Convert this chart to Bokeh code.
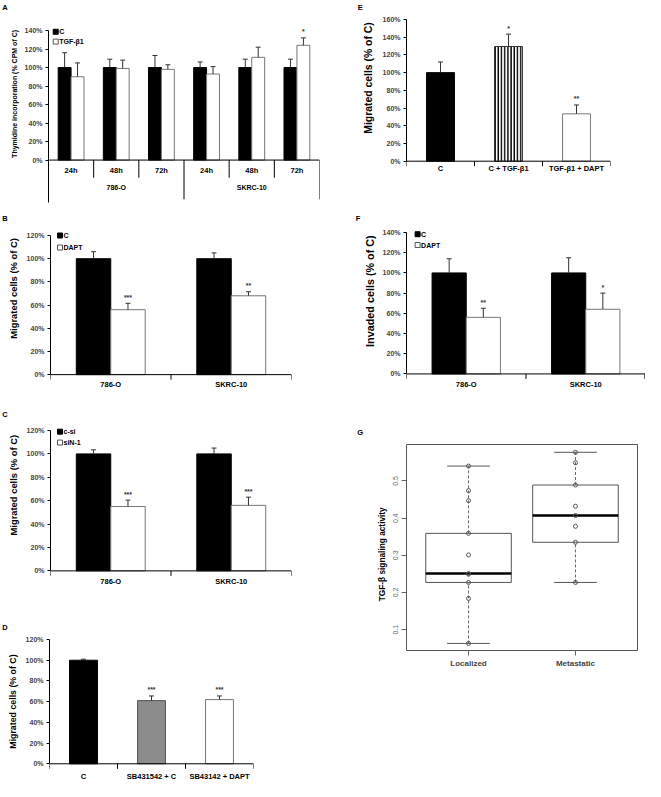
from bokeh.plotting import figure
from bokeh.layouts import column, row
from bokeh.models import Range1d, FixedTicker, PrintfTickFormatter, Title
from bokeh.core.properties import value
from bokeh.embed import file_html
from bokeh.resources import INLINE

# ---------------- data ----------------
a_lines = ["786-O", "SKRC-10"]
a_times = ["24h", "48h", "72h", "24h", "48h", "72h"]
a_c = [100, 100, 100, 100, 100, 100]
a_c_err = [116, 109, 113, 106, 109, 109]
a_tgf = [90, 99, 98, 93, 111, 124]
a_tgf_err = [105, 108, 103, 101, 122, 132]
a_sig = ["", "", "", "", "", "*"]
a_legend = ["C", "TGF-β1"]

b_lines = ["786-O", "SKRC-10"]
b_c = [100, 100]
b_c_err = [106, 105]
b_dapt = [56, 68]
b_dapt_err = [61.5, 71.5]
b_sig = ["***", "**"]
b_legend = ["C", "DAPT"]

c_lines = ["786-O", "SKRC-10"]
c_csi = [100, 100]
c_csi_err = [103.5, 105]
c_sin = [55, 56]
c_sin_err = [60.5, 63]
c_sig = ["***", "***"]
c_legend = ["c-si", "siN-1"]

d_cats = ["C", "SB431542 + C", "SB43142 + DAPT"]
d_vals = [100, 61, 62]
d_err = [101, 65.5, 65.5]
d_sig = ["", "***", "***"]

e_cats = ["C", "C + TGF-β1", "TGF-β1 + DAPT"]
e_vals = [100, 129.5, 53.5]
e_err = [112, 143.5, 63.5]
e_sig = ["", "*", "**"]

f_lines = ["786-O", "SKRC-10"]
f_c = [100, 100]
f_c_err = [114, 115]
f_dapt = [56, 64]
f_dapt_err = [65, 80]
f_sig = ["**", "*"]
f_legend = ["C", "DAPT"]

g_groups = ["Localized", "Metastatic"]
g_localized = [0.540, 0.474, 0.447, 0.359, 0.301, 0.251, 0.249, 0.227, 0.184, 0.063]
g_metastatic = [0.577, 0.549, 0.489, 0.432, 0.407, 0.378, 0.335, 0.227]
g_lo = [0.063, 0.227]
g_q1 = [0.227, 0.335]
g_med = [0.251, 0.407]
g_q3 = [0.359, 0.489]
g_hi = [0.540, 0.577]

# ---------------- styling helpers ----------------
FONT = "Liberation Sans"
FV = value(FONT)
OUTLINE_W = "#777777"
ERR_COL = "#333333"


def strip(w, h, x, y, t):
    """Small band above a panel that carries the panel letter."""
    s = figure(width=w, height=h, x_range=Range1d(0, w), y_range=Range1d(h, 0),
               x_axis_location=None, y_axis_location=None, output_backend="svg",
               toolbar_location=None, min_border=0, frame_align=False)
    s.grid.visible = False
    s.outline_line_color = None
    s.text(x=[x], y=[y], text=[t], text_font=FV, text_font_style="bold",
           text_font_size="7.5px", text_align="center", text_baseline="middle")
    return s


def ylabel_title(p, text, size, offset, standoff):
    t = Title(text=text, align="left", vertical_align="bottom", offset=offset,
              standoff=standoff, text_font=FONT, text_font_style="bold",
              text_font_size=f"{size}px", text_color="black")
    p.add_layout(t, "left")


def excel_fig(w, h, mb, pad, sh, ncat, ymin, ymax, ystep, ylow):
    fh = h - mb[2] - mb[3]
    pxper = fh / (ymax - ymin)
    p = figure(width=w, height=h - sh, x_range=Range1d(0, ncat),
               y_range=Range1d(ymin, ymax + pad / pxper),
               x_axis_location=None, output_backend="svg", toolbar_location=None,
               min_border_left=mb[0], min_border_right=mb[1],
               min_border_top=mb[2] - pad - sh, min_border_bottom=mb[3],
               frame_align=False)
    p.grid.visible = False
    p.outline_line_color = None
    ax = p.yaxis[0]
    ax.ticker = FixedTicker(ticks=list(range(0, ymax + 1, ystep)))
    ax.formatter = PrintfTickFormatter(format="%d%%")
    ax.bounds = (ylow, ymax)
    ax.axis_line_color = "black"
    ax.major_tick_line_color = "black"
    ax.major_tick_out = 3
    ax.major_tick_in = 0
    ax.minor_tick_out = 0
    ax.minor_tick_in = 0
    ax.major_label_standoff = 3
    ax.major_label_text_font = FONT
    ax.major_label_text_font_style = "bold"
    ax.major_label_text_font_size = "7px"
    return p, pxper


def txt(p, xs, ys, texts, size="7.5px", color="black", align="center", baseline="middle"):
    p.text(x=xs, y=ys, text=texts, text_font=FV, text_font_style="bold",
           text_font_size=size, text_color=color, text_align=align, text_baseline=baseline)


def errbars(p, xs, vals, errs, capw):
    p.segment(x0=xs, y0=vals, x1=xs, y1=errs, line_color=ERR_COL, line_width=1)
    p.segment(x0=[x - capw for x in xs], y0=errs, x1=[x + capw for x in xs], y1=errs,
              line_color=ERR_COL, line_width=1)


def stars(p, xs, errs, sig, pxper):
    txt(p, xs, [e + 6.0 / pxper for e in errs], sig, size="7px", color="#333333")


def axis_base(p, ncat, pxper, tick_px, ticks):
    p.segment(x0=[0], y0=[0], x1=[ncat], y1=[0], line_color="black", line_width=1)
    p.segment(x0=ticks, y0=[0] * len(ticks), x1=ticks, y1=[-tick_px / pxper] * len(ticks),
              line_color="black", line_width=1)


def legend(p, x, ys, labels, pxx):
    p.scatter(x=[x, x], y=ys, marker="square", size=5,
              fill_color=["black", "white"], line_color=["black", "#555555"], line_width=1)
    txt(p, [x + 3.5 / pxx] * 2, ys, labels, size="7px", align="left")


def two_series(p, ncat, s1, s1e, s2, s2e, sig, w, pxper, pxx):
    centers = [i + 0.5 for i in range(ncat)]
    x1 = [c - w / 2 for c in centers]
    x2 = [c + w / 2 for c in centers]
    p.vbar(x=x1, top=s1, width=w, bottom=0, fill_color="black", line_color="black", line_width=1)
    p.vbar(x=x2, top=s2, width=w, bottom=0, fill_color="white", line_color=OUTLINE_W, line_width=1)
    capw = 2.5 / pxx
    errbars(p, x1, s1, s1e, capw)
    errbars(p, x2, s2, s2e, capw)
    stars(p, x2, s2e, sig, pxper)
    return centers


# ---------------- Panel A ----------------
wA, hA, mbA, shA = 323, 209, (48, 4, 30, 5), 11
sA = strip(wA, shA, 4.5, 6, "A")
pA, pyA = excel_fig(wA, hA, mbA, 8, shA, 6, -48, 140, 20, -45.6)
pxA = (wA - mbA[0] - mbA[1]) / 6
cA = two_series(pA, 6, a_c, a_c_err, a_tgf, a_tgf_err, a_sig, 0.286, pyA, pxA)
pA.segment(x0=[0], y0=[0], x1=[6], y1=[0], line_color="black")
inner = [1, 2, 4, 5]
pA.segment(x0=inner, y0=[0] * 4, x1=inner, y1=[-19.1] * 4, line_color="black")
outer = [3, 6]
pA.segment(x0=outer, y0=[0] * 2, x1=outer, y1=[-42.4] * 2, line_color="black")
txt(pA, cA, [-11.7] * 6, a_times, size="7.5px")
txt(pA, [1.5, 4.5], [-29.7] * 2, a_lines, size="7px")
legend(pA, 0.16, [138.6, 128.0], a_legend, pxA)
ylabel_title(pA, "Thymidine incorporation (% CPM of C)", 7, 46.6, 7)

# ---------------- Panel B ----------------
wB, hB, mbB, shB = 323, 192, (48, 32, 26, 6), 15
sB = strip(wB, shB, 4.5, 9.4, "B")
pB, pyB = excel_fig(wB, hB, mbB, 8, shB, 2, -18, 120, 20, 0)
pxB = (wB - mbB[0] - mbB[1]) / 2
cB = two_series(pB, 2, b_c, b_c_err, b_dapt, b_dapt_err, b_sig, 0.286, pyB, pxB)
axis_base(pB, 2, pyB, 5, [0, 1, 2])
txt(pB, cB, [-8.5] * 2, b_lines, size="7.5px")
legend(pB, 0.079, [120, 109.6], b_legend, pxB)
ylabel_title(pB, "Migrated cells (% of C)", 9.4, 56.8, 10)

# ---------------- Panel C ----------------
wC, hC, mbC, shC = 323, 197, (48, 32, 29, 6), 19
sC = strip(wC, shC, 4.5, 13.3, "C")
pC, pyC = excel_fig(wC, hC, mbC, 8, shC, 2, -18.5, 120, 20, 0)
pxC = (wC - mbC[0] - mbC[1]) / 2
cC = two_series(pC, 2, c_csi, c_csi_err, c_sin, c_sin_err, c_sig, 0.286, pyC, pxC)
axis_base(pC, 2, pyC, 5, [0, 1, 2])
txt(pC, cC, [-8.9] * 2, c_lines, size="7.5px")
legend(pC, 0.079, [119, 109.7], c_legend, pxC)
ylabel_title(pC, "Migrated cells (% of C)", 9.4, 57, 10)

# ---------------- Panel D ----------------
wD, hD, mbD, shD = 323, 183, (48, 70, 41, 0), 34
sD = strip(wD, shD, 4.5, 28.8, "D")
pD, pyD = excel_fig(wD, hD, mbD, 5, shD, 3, -17.1, 120, 20, 0)
pxD = (wD - mbD[0] - mbD[1]) / 3
cD = [i + 0.5 for i in range(3)]
pD.vbar(x=cD, top=d_vals, width=0.41, bottom=0, fill_color=["black", "#8c8c8c", "white"],
        line_color=["black", "#555555", OUTLINE_W], line_width=1)
errbars(pD, cD, d_vals, d_err, 2.5 / pxD)
stars(pD, cD, d_err, d_sig, pyD)
axis_base(pD, 3, pyD, 5, [0, 1, 2, 3])
txt(pD, cD, [-12.6] * 3, d_cats, size="7.5px")
ylabel_title(pD, "Migrated cells (% of C)", 8.8, 32.8, 10)

# ---------------- Panel E ----------------
wE, hE, mbE, shE = 322, 199, (83, 35, 19, 19), 11
sE = strip(wE, shE, 36.7, 6, "E")
pE, pyE = excel_fig(wE, hE, mbE, 0, shE, 3, -21.8, 160, 20, 0)
pxE = (wE - mbE[0] - mbE[1]) / 3
cE = [i + 0.5 for i in range(3)]
pE.vbar(x=cE, top=e_vals, width=0.41, bottom=0, fill_color=["black", "white", "white"],
        hatch_pattern=[" ", "|", " "], hatch_color="black", hatch_scale=3.2, hatch_weight=1.6,
        line_color=["black", "#333333", OUTLINE_W], line_width=1)
errbars(pE, cE, e_vals, e_err, 2.5 / pxE)
stars(pE, cE, e_err, e_sig, pyE)
axis_base(pE, 3, pyE, 5, [0, 1, 2, 3])
txt(pE, cE, [-8.5] * 3, e_cats, size="7.5px")
ylabel_title(pE, "Migrated cells (% of C)", 10.4, 46.8, 11)

# ---------------- Panel F ----------------
wF, hF, mbF, shF = 322, 211, (83, 0, 33, 19), 25
sF = strip(wF, shF, 34.6, 19.4, "F")
pF, pyF = excel_fig(wF, hF, mbF, 8, shF, 2, -17.4, 140, 20, 0)
pxF = (wF - mbF[0] - mbF[1]) / 2
cF = two_series(pF, 2, f_c, f_c_err, f_dapt, f_dapt_err, f_sig, 0.286, pyF, pxF)
axis_base(pF, 2, pyF, 5, [0, 1, 1.995])
txt(pF, cF, [-10.3] * 2, f_lines, size="7.5px")
legend(pF, 0.093, [138.3, 127.6], f_legend, pxF)
ylabel_title(pF, "Invaded cells (% of C)", 10.8, 44.6, 8)

# ---------------- Panel G ----------------
wG, hG, mbG, shG = 322, 371, (83, 8, 34, 131), 27
sG = strip(wG, shG, 36.7, 22.2, "G")
pG = figure(width=wG, height=hG - shG, x_range=Range1d(0.42, 2.58),
            y_range=Range1d(0.044, 0.598),
            output_backend="svg", toolbar_location=None,
            min_border_left=mbG[0], min_border_right=mbG[1],
            min_border_top=mbG[2] - shG, min_border_bottom=mbG[3],
            frame_align=False)
pG.grid.visible = False
pG.outline_line_color = "#555555"
pG.outline_line_width = 1
gx = [1, 2]
pG.quad(left=[x - 0.4 for x in gx], right=[x + 0.4 for x in gx], bottom=g_q1, top=g_q3,
        fill_color=None, line_color="#555555", line_width=1)
pG.segment(x0=gx, y0=g_q3, x1=gx, y1=g_hi, line_color="#666666", line_dash="3 2", line_width=1)
pG.segment(x0=gx, y0=g_lo, x1=gx, y1=g_q1, line_color="#666666", line_dash="3 2", line_width=1)
pG.segment(x0=[x - 0.2 for x in gx], y0=g_hi, x1=[x + 0.2 for x in gx], y1=g_hi,
           line_color="#555555", line_width=1)
pG.segment(x0=[x - 0.2 for x in gx], y0=g_lo, x1=[x + 0.2 for x in gx], y1=g_lo,
           line_color="#555555", line_width=1)
pG.segment(x0=[x - 0.4 for x in gx], y0=g_med, x1=[x + 0.4 for x in gx], y1=g_med,
           line_color="black", line_width=2.5)
pts_x = [1] * len(g_localized) + [2] * len(g_metastatic)
pts_y = g_localized + g_metastatic
pG.scatter(x=pts_x, y=pts_y, marker="circle", size=4, fill_color=None,
           line_color="#555555", line_width=1)
xa = pG.xaxis[0]
xa.ticker = FixedTicker(ticks=gx)
xa.major_label_overrides = {1: g_groups[0], 2: g_groups[1]}
xa.axis_line_color = None
xa.major_tick_line_color = "#666666"
xa.major_tick_out = 5
xa.major_tick_in = 0
xa.minor_tick_out = 0
xa.minor_tick_in = 0
xa.major_label_standoff = 3
xa.major_label_text_font = FONT
xa.major_label_text_font_style = "bold"
xa.major_label_text_font_size = "8px"
ya = pG.yaxis[0]
ya.ticker = FixedTicker(ticks=[0.1, 0.2, 0.3, 0.4, 0.5])
ya.axis_line_color = None
ya.major_tick_line_color = "#666666"
ya.major_tick_out = 5
ya.major_tick_in = 0
ya.minor_tick_out = 0
ya.minor_tick_in = 0
ya.major_label_standoff = 3
ya.major_label_orientation = "parallel"
ya.major_label_text_font = FONT
ya.major_label_text_font_size = "7px"
ya.major_label_text_color = "#666666"
ylabel_title(pG, "TGF-β signaling activity", 8.3, 49.2, 8)

layout = row(column(sA, pA, sB, pB, sC, pC, sD, pD),
             column(sE, pE, sF, pF, sG, pG))
open("out.html", "w").write(file_html(layout, INLINE))
